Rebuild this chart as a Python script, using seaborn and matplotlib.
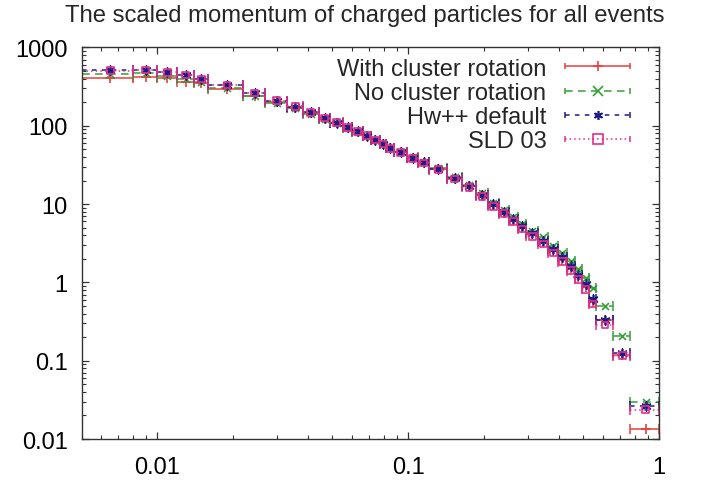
#!/usr/bin/env python3

import matplotlib
matplotlib.use("Agg")
import matplotlib.pyplot as plt
from matplotlib.lines import Line2D
from matplotlib.legend_handler import HandlerLine2D
from matplotlib.ticker import LogLocator, FuncFormatter, NullFormatter
import numpy as np
import pandas as pd
import seaborn as sns

# x_p bin edges (SLD binning)
bin_edges = [0.005, 0.008, 0.010, 0.012, 0.014, 0.016, 0.022, 0.027, 0.033, 0.038,
             0.044, 0.049, 0.055, 0.060, 0.066, 0.071, 0.077, 0.082, 0.088, 0.099,
             0.110, 0.121, 0.143, 0.164, 0.186, 0.208, 0.230, 0.252, 0.274, 0.296,
             0.329, 0.362, 0.395, 0.428, 0.461, 0.494, 0.527, 0.560, 0.658, 0.768,
             1.000]

# 1/sigma dsigma/dx_p per bin
with_rotation = [407, 416, 404, 366, 352, 295, 240, 200, 170, 145,
                 123, 109, 95, 84, 74.5, 65.5, 58, 51.5, 46, 38.8,
                 33.8, 27.8, 21.2, 16.8, 13.0, 9.7, 7.8, 6.3, 5.0, 4.1,
                 3.25, 2.5, 1.95, 1.5, 1.17, 0.87, 0.57, 0.33, 0.12, 0.0134]
no_rotation = [459, 472, 436, 396, 366, 301, 238, 195, 168, 143,
               122, 108, 94, 84, 74, 65.5, 58.3, 52, 46.5, 39.5,
               34.8, 28.6, 22.2, 17.6, 13.8, 10.4, 8.5, 6.9, 5.6, 4.6,
               3.75, 2.95, 2.35, 1.85, 1.48, 1.15, 0.84, 0.495, 0.205, 0.0294]
hw_default = [515, 522, 486, 447, 398, 333, 263, 210, 176, 148,
              126, 110, 96, 85, 75, 66, 58.5, 51.8, 46.2, 39.0,
              34.0, 28.0, 21.5, 17.0, 13.2, 9.9, 8.0, 6.5, 5.2, 4.25,
              3.4, 2.65, 2.08, 1.6, 1.25, 0.95, 0.62, 0.334, 0.125, 0.0266]
sld03 = [506, 516, 482, 445, 396, 332, 262, 209, 177, 149,
         126, 111, 96, 85, 75, 66, 58.6, 51.6, 45.9, 38.5,
         33.5, 27.5, 20.9, 16.4, 12.6, 9.4, 7.5, 6.0, 4.8, 3.9,
         3.1, 2.37, 1.84, 1.41, 1.10, 0.82, 0.53, 0.286, 0.116, 0.0237]

labels = ["With cluster rotation", "No cluster rotation", "Hw++ default", "SLD 03"]
series_values = [with_rotation, no_rotation, hw_default, sld03]

styles = {
    "With cluster rotation": dict(color="#e8403c", ls="-", marker="+", s=55),
    "No cluster rotation": dict(color="#35a035", ls=(0, (5, 3.5)), marker="x", s=25),
    "Hw++ default": dict(color="#1c1c86", ls=(0, (3, 3.5)), marker=(6, 2, 0), s=40),
    "SLD 03": dict(color="#e2308a", ls=(0, (1, 2)), marker="s", s=24),
}

sns.set_style("ticks")
plt.rcParams["font.family"] = ["Liberation Sans", "DejaVu Sans"]

lo = np.array(bin_edges[:-1])
hi = np.array(bin_edges[1:])
mid = (lo + hi) / 2
df = pd.concat(
    [pd.DataFrame({"xp": mid, "lo": lo, "hi": hi, "value": v, "series": n})
     for n, v in zip(labels, series_values)],
    ignore_index=True,
)

fig = plt.figure(figsize=(7.1, 4.81), dpi=100)
ax = fig.add_axes([0.1148, 0.0852, 0.8134, 0.814])

for name in labels:
    st = styles[name]
    d = df[df["series"] == name]
    eb = ax.errorbar(d["xp"], d["value"], xerr=[d["xp"] - d["lo"], d["hi"] - d["xp"]],
                     fmt="none", ecolor=st["color"], elinewidth=1.1,
                     capsize=3.5, capthick=1.1)
    eb[2][0].set_linestyle(st["ls"])
    kw = dict(edgecolor=st["color"]) if name == "SLD 03" else {}
    sns.scatterplot(data=d, x="xp", y="value", marker=st["marker"], s=st["s"],
                    color=st["color"], linewidth=1.2, legend=False, ax=ax,
                    zorder=3, **kw)
    if name == "SLD 03":
        ax.collections[-1].set_facecolor("none")

ax.set_xscale("log")
ax.set_yscale("log")
ax.set_xlim(0.005, 1)
ax.set_ylim(0.01, 1000)
ax.set_xlabel("")
ax.set_ylabel("")

fmt = FuncFormatter(lambda v, p: f"{v:g}")
for axis in (ax.xaxis, ax.yaxis):
    axis.set_major_locator(LogLocator(base=10))
    axis.set_minor_locator(LogLocator(base=10, subs=np.arange(2, 10)))
    axis.set_major_formatter(fmt)
    axis.set_minor_formatter(NullFormatter())

ax.tick_params(which="both", direction="in", top=True, right=True,
               colors="#333333", labelcolor="black", labelsize=17)
ax.tick_params(which="major", length=5, width=0.9)
ax.tick_params(which="minor", length=3, width=0.8)
ax.tick_params(axis="y", pad=10)
ax.tick_params(axis="x", pad=12)
for sp in ax.spines.values():
    sp.set_color("#333333")
    sp.set_linewidth(1.0)
    sp.set_visible(True)

# gnuplot-like legend: text on the left, sample with end caps on the right
handles = []
hmap = {}
for name in labels:
    st = styles[name]
    line = Line2D([], [], color=st["color"], ls=st["ls"], lw=1.1,
                  marker=st["marker"], markersize=6.5, markeredgewidth=1.2,
                  markerfacecolor="none" if name == "SLD 03" else st["color"],
                  markeredgecolor=st["color"])
    caps = Line2D([], [], color=st["color"], ls="none", marker="|",
                  markersize=5, markeredgewidth=1.1)
    hmap[caps] = HandlerLine2D(numpoints=2, marker_pad=0)
    handles.append((line, caps))

ax.legend(handles, labels, handler_map=hmap, markerfirst=False, frameon=False,
          loc="upper right", bbox_to_anchor=(0.95, 0.974), borderpad=0,
          borderaxespad=0, handlelength=2.75, handletextpad=0.8,
          labelspacing=0.09, fontsize=17, numpoints=1)

fig.text(365 / 710, 1 - 22 / 481,
         "The scaled momentum of charged particles for all events",
         ha="center", va="baseline", fontsize=17.2)

fig.savefig("out.png", dpi=100, facecolor="white")
plt.close(fig)
